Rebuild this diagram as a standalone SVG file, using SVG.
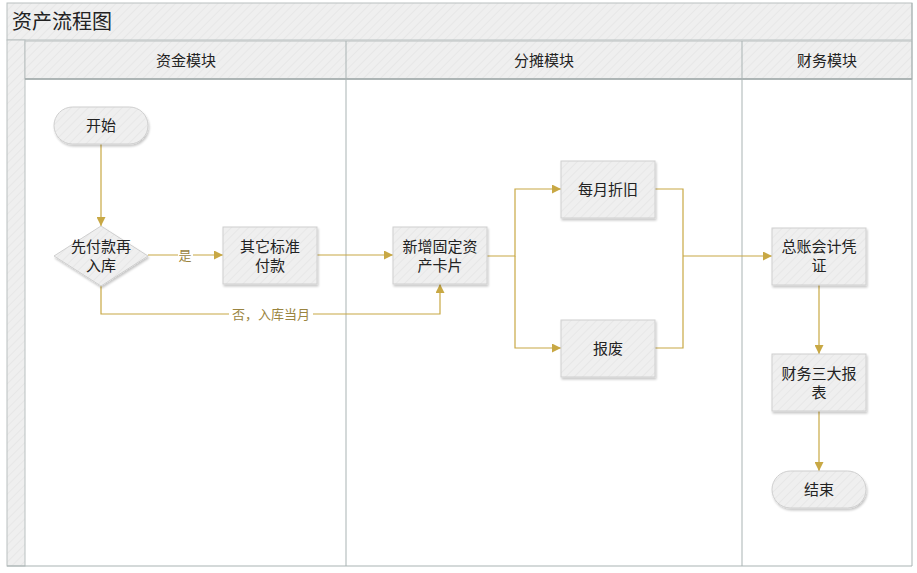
<svg xmlns="http://www.w3.org/2000/svg" width="917" height="573" viewBox="0 0 917 573">
<defs>
<pattern id="hatch" width="6" height="6" patternUnits="userSpaceOnUse" patternTransform="rotate(45)">
<rect width="6" height="6" fill="#efefef"/>
<line x1="0" y1="0" x2="0" y2="6" stroke="#e7e7e7" stroke-width="2"/>
</pattern>
<filter id="sh" x="-10%" y="-10%" width="130%" height="140%">
<feDropShadow dx="1" dy="2" stdDeviation="1.2" flood-color="#000" flood-opacity="0.22"/>
</filter>
<marker id="arr" viewBox="0 0 10 10" refX="10" refY="5" markerWidth="9" markerHeight="9" markerUnits="userSpaceOnUse" orient="auto">
<path d="M0,0 L10,5 L0,10 z" fill="#c8a844"/>
</marker>
</defs>
<style>
.t{font-family:"Microsoft YaHei","Noto Sans CJK SC",sans-serif;fill:#222;text-anchor:middle;dominant-baseline:central}
.n{font-size:15px}
.h{font-size:15px}
.lbl{font-size:13px;fill:#9a8440}
.node{fill:url(#hatch);stroke:#cfcfcf;stroke-width:1;filter:url(#sh)}
.c{fill:none;stroke:#c8a844;stroke-width:1.2}
.lane{stroke:#a9b3b3;stroke-width:1;fill:none}
</style>
<rect width="917" height="573" fill="#fff"/>
<g id="pool">
<rect x="7" y="3" width="905" height="37" fill="url(#hatch)" stroke="#b9c0c0"/>
<text x="12" y="20" class="t" style="font-size:20px;text-anchor:start">资产流程图</text>
<rect x="7" y="40" width="18" height="526" fill="url(#hatch)" stroke="#b9c0c0"/>
<rect x="25" y="41" width="887" height="38" fill="url(#hatch)" stroke="#b9c0c0"/>
<line class="lane" x1="25" y1="79" x2="912" y2="79" style="stroke:#9fa9a9;stroke-width:1.5"/>
<line class="lane" x1="346" y1="41" x2="346" y2="566"/>
<line class="lane" x1="742" y1="41" x2="742" y2="566"/>
<line class="lane" x1="912" y1="3" x2="912" y2="566"/>
<line class="lane" x1="7" y1="566" x2="912" y2="566"/>
<text x="186" y="59" class="t h">资金模块</text>
<text x="544" y="59" class="t h">分摊模块</text>
<text x="827" y="59" class="t h">财务模块</text>
</g>
<g id="connectors">
<line class="c" x1="101" y1="144" x2="101" y2="226" marker-end="url(#arr)"/>
<path class="c" d="M148,255 H178 M193,255 H223" marker-end="url(#arr)"/>
<text x="185" y="254" class="t lbl">是</text>
<line class="c" x1="317" y1="255" x2="393" y2="255" marker-end="url(#arr)"/>
<path class="c" d="M101,286 V314 H229 M313,314 H440 V284" marker-end="url(#arr)"/>
<text x="271" y="313" class="t lbl">否，入库当月</text>
<path class="c" d="M487,256 H515 V189 H561" marker-end="url(#arr)"/>
<path class="c" d="M515,256 V348 H561" marker-end="url(#arr)"/>
<path class="c" d="M655,189 H683 V348 H655"/>
<path class="c" d="M683,256 H772" marker-end="url(#arr)"/>
<line class="c" x1="819" y1="285" x2="819" y2="354" marker-end="url(#arr)"/>
<line class="c" x1="819" y1="411" x2="819" y2="471" marker-end="url(#arr)"/>
</g>
<g id="start">
<rect class="node" x="54" y="107" width="94" height="37" rx="18.5"/>
<text x="101" y="124.5" class="t n">开始</text>
</g>
<g id="decision">
<polygon class="node" points="101,226 148,256 101,286 54,256"/>
<text x="101" y="245" class="t n">先付款再</text>
<text x="101" y="264" class="t n">入库</text>
</g>
<g id="other-pay">
<rect class="node" x="223" y="227" width="94" height="57"/>
<text x="270" y="245" class="t n">其它标准</text>
<text x="270" y="264" class="t n">付款</text>
</g>
<g id="new-asset">
<rect class="node" x="393" y="227" width="94" height="57"/>
<text x="440" y="245" class="t n">新增固定资</text>
<text x="440" y="264" class="t n">产卡片</text>
</g>
<g id="depreciation">
<rect class="node" x="561" y="161" width="94" height="57"/>
<text x="608" y="188.5" class="t n">每月折旧</text>
</g>
<g id="scrap">
<rect class="node" x="561" y="320" width="94" height="57"/>
<text x="608" y="347.5" class="t n">报废</text>
</g>
<g id="voucher">
<rect class="node" x="772" y="228" width="94" height="57"/>
<text x="819" y="245" class="t n">总账会计凭</text>
<text x="819" y="264" class="t n">证</text>
</g>
<g id="reports">
<rect class="node" x="772" y="354" width="94" height="57"/>
<text x="819" y="372" class="t n">财务三大报</text>
<text x="819" y="391" class="t n">表</text>
</g>
<g id="end">
<rect class="node" x="772" y="471" width="94" height="37" rx="18.5"/>
<text x="819" y="488.5" class="t n">结束</text>
</g>
</svg>
